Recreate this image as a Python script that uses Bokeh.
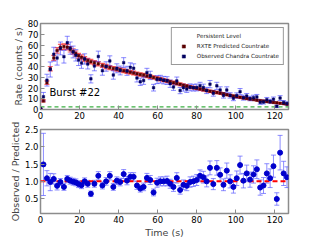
from bokeh.plotting import figure
from bokeh.models import (ColumnDataSource, Whisker, TeeHead, Span, Label, Legend,
                          LegendItem, Range1d, FixedTicker, NumeralTickFormatter)
from bokeh.layouts import column
from bokeh.embed import file_html
from bokeh.resources import INLINE

FONT = "DejaVu Sans"

# ---------------- data ----------------
time_s = [0.0, 1.5, 3.3, 5.0, 6.8, 8.5, 10.2, 12.0, 13.7, 15.2,
          16.7, 18.1, 19.5, 21.0, 22.6, 24.2, 25.8, 27.6, 29.6, 31.7,
          33.6, 35.5, 37.3, 39.1, 40.8, 42.6, 44.3, 46.0, 47.7, 49.4,
          51.1, 52.8, 54.5, 56.2, 57.9, 59.7, 61.4, 63.1, 64.8, 66.4,
          68.1, 69.8, 71.5, 73.2, 74.9, 76.6, 78.3, 80.0, 81.7, 83.4,
          85.1, 86.8, 88.5, 90.3, 92.0, 93.7, 95.4, 97.1, 98.8, 100.5,
          102.2, 103.9, 105.6, 107.3, 109.1, 110.8, 112.5, 114.2, 115.9, 117.6,
          119.3, 121.0, 122.7, 124.5, 126.2]

predicted = [0.5, 8, 25, 38, 48, 55, 58, 58.5, 58, 56,
             54, 52, 50, 48.5, 47, 45.5, 44.5, 43.5, 42.5, 41,
             40, 39, 38.2, 37.5, 37, 36, 35.3, 34.7, 34, 33.3,
             32.6, 32, 31.2, 30.5, 29.8, 29, 28.2, 27.3, 26.6, 25.8,
             25, 24.2, 23.4, 22.6, 21.8, 21, 20.3, 19.7, 19, 18.3,
             17.7, 17, 16.4, 15.8, 15.2, 14.6, 13.8, 13.1, 12.5, 11.9,
             11.3, 10.8, 10.2, 9.7, 9.2, 8.7, 8.2, 7.8, 7.4, 7.0,
             6.6, 6.2, 5.8, 5.4, 5.0]

predicted_err = [0.3, 1.0, 1.6, 2.0, 2.3, 2.5, 2.6, 2.6, 2.6, 2.5,
                 2.5, 2.4, 2.3, 2.3, 2.2, 2.1, 2.1, 2.0, 2.0, 1.9,
                 1.9, 1.9, 1.8, 1.8, 1.8, 1.7, 1.7, 1.7, 1.7, 1.6,
                 1.6, 1.6, 1.6, 1.5, 1.5, 1.5, 1.5, 1.4, 1.4, 1.4,
                 1.4, 1.3, 1.3, 1.3, 1.3, 1.2, 1.2, 1.2, 1.2, 1.2,
                 1.1, 1.1, 1.1, 1.1, 1.0, 1.0, 1.0, 1.0, 1.0, 0.9,
                 0.9, 0.9, 0.9, 0.9, 0.8, 0.8, 0.8, 0.8, 0.8, 0.7,
                 0.7, 0.7, 0.7, 0.7, 0.7]

observed = [0.6, 11.9, 27.3, 37.2, 51.4, 47.9, 56.8, 49.1, 62.1, 57.1,
            53.5, 50.4, 46.0, 43.2, 47.0, 42.3, 28.5, 40.5, 49.3, 36.1,
            40.0, 45.2, 32.1, 38.3, 36.3, 43.6, 36.0, 39.2, 38.4, 29.3,
            25.8, 26.9, 34.3, 31.7, 20.3, 27.8, 28.2, 27.3, 26.9, 24.0,
            21.0, 26.6, 17.6, 20.3, 19.0, 20.6, 20.3, 20.5, 22.0, 20.5,
            17.7, 23.6, 15.1, 22.0, 18.1, 13.1, 18.1, 13.1, 10.5, 13.0,
            16.6, 11.0, 12.5, 10.2, 11.0, 11.7, 6.7, 6.9, 9.1, 7.6,
            9.5, 3.0, 10.6, 6.6, 5.6]

observed_err = [0.5, 4.0, 5.5, 7.0, 6.5, 6.6, 6.0, 5.9, 6.0, 5.7,
                5.5, 5.3, 5.1, 4.9, 4.8, 4.6, 3.8, 4.5, 5.0, 4.2,
                4.4, 4.7, 3.9, 4.2, 4.1, 4.6, 4.2, 4.2, 4.1, 3.7,
                3.4, 3.5, 4.0, 3.9, 3.1, 3.7, 3.6, 3.5, 3.6, 3.4,
                3.2, 3.6, 2.9, 3.2, 3.1, 3.2, 3.1, 3.2, 3.3, 3.1,
                2.9, 3.4, 2.7, 3.3, 3.0, 2.5, 3.0, 2.5, 2.3, 2.5,
                2.9, 2.3, 2.4, 2.1, 2.3, 2.3, 1.8, 1.8, 2.1, 1.9,
                2.1, 1.1, 2.3, 1.7, 1.5]

# observed / predicted (from t = 1.5 s on)
ratio = [1.49, 1.09, 0.98, 1.07, 0.87, 0.98, 0.84, 1.07, 1.02,
         0.99, 0.97, 0.92, 0.89, 1.0, 0.93, 0.64, 0.93, 1.16, 0.88,
         1.0, 1.16, 0.84, 1.02, 0.98, 1.21, 1.02, 1.13, 1.13, 0.88,
         0.79, 0.84, 1.1, 1.04, 0.68, 0.96, 1.0, 1.0, 1.01, 0.93,
         0.84, 1.1, 0.75, 0.9, 0.87, 0.98, 1.0, 1.04, 1.16, 1.12,
         1.0, 1.39, 0.92, 1.39, 1.19, 0.9, 1.31, 1.0, 0.84, 1.09,
         1.47, 1.02, 1.23, 1.05, 1.2, 1.35, 0.82, 0.88, 1.23, 1.09,
         1.44, 0.49, 1.83, 1.23, 1.12]

ratio_err = [0.9, 0.22, 0.25, 0.15, 0.12, 0.1, 0.1, 0.1, 0.1,
             0.1, 0.1, 0.1, 0.1, 0.1, 0.1, 0.08, 0.1, 0.12, 0.1,
             0.11, 0.12, 0.1, 0.11, 0.11, 0.13, 0.12, 0.12, 0.12, 0.11,
             0.1, 0.11, 0.13, 0.13, 0.1, 0.13, 0.13, 0.13, 0.14, 0.13,
             0.13, 0.15, 0.12, 0.14, 0.14, 0.15, 0.15, 0.16, 0.17, 0.17,
             0.16, 0.2, 0.16, 0.21, 0.2, 0.17, 0.22, 0.19, 0.18, 0.21,
             0.26, 0.21, 0.24, 0.22, 0.25, 0.27, 0.22, 0.23, 0.28, 0.27,
             0.32, 0.18, 0.5, 0.35, 0.3]

persistent_level = 2.5
expected_ratio = 1.0

x_ticks = [0, 20, 40, 60, 80, 100, 120]
rate_ticks = [0, 10, 20, 30, 40, 50, 60, 70, 80]
ratio_ticks = [0.5, 1.0, 1.5, 2.0, 2.5]

# ---------------- styling helpers ----------------
FRAME = "#8c8c8c"


def style(p, xticks, yticks):
    p.outline_line_color = FRAME
    p.outline_line_width = 1.5
    p.xgrid.visible = False
    p.ygrid.visible = False
    for ax in p.axis:
        ax.axis_line_color = None
        ax.major_tick_in = 4
        ax.major_tick_out = 0
        ax.major_tick_line_color = FRAME
        ax.minor_tick_line_color = None
        ax.major_label_text_font = FONT
        ax.major_label_text_font_size = "8.5px"
        ax.major_label_text_color = "black"
        ax.major_label_standoff = 2
        ax.axis_label_text_font = FONT
        ax.axis_label_text_font_size = "9.5px"
        ax.axis_label_text_font_style = "normal"
        ax.axis_label_standoff = 1
    p.xaxis.ticker = FixedTicker(ticks=xticks)
    p.yaxis.ticker = FixedTicker(ticks=yticks)


# ---------------- top panel ----------------
top = figure(width=300, height=122, x_range=Range1d(0, 127), y_range=Range1d(0, 80),
             output_backend="svg", toolbar_location=None,
             min_border_left=40, min_border_right=12, min_border_top=23, min_border_bottom=13)

src_pred = ColumnDataSource(dict(
    t=time_s, v=predicted,
    lo=[v - e for v, e in zip(predicted, predicted_err)],
    hi=[v + e for v, e in zip(predicted, predicted_err)]))
src_obs = ColumnDataSource(dict(
    t=time_s, v=observed,
    lo=[v - e for v, e in zip(observed, observed_err)],
    hi=[v + e for v, e in zip(observed, observed_err)]))

RED = "#ff2020"
BLUE = "#3a3aff"
GREEN = "#3cb043"

top.add_layout(Span(location=persistent_level, dimension="width", line_color=GREEN,
                    line_dash="4 3", line_width=1.2, level="underlay"))

wp = Whisker(source=src_pred, base="t", lower="lo", upper="hi", dimension="height",
             line_color=RED, line_alpha=0.7, line_width=1.2, level="underlay",
             upper_head=TeeHead(size=5, line_color=RED, line_alpha=0.7, line_width=1.2),
             lower_head=TeeHead(size=5, line_color=RED, line_alpha=0.7, line_width=1.2))
wo = Whisker(source=src_obs, base="t", lower="lo", upper="hi", dimension="height",
             line_color=BLUE, line_alpha=0.6, line_width=1.0, level="underlay",
             upper_head=TeeHead(size=5, line_color=BLUE, line_alpha=0.6, line_width=1.0),
             lower_head=TeeHead(size=5, line_color=BLUE, line_alpha=0.6, line_width=1.0))
top.add_layout(wp)
top.add_layout(wo)

r_pred = top.scatter("t", "v", source=src_pred, marker="square", size=2.5,
                     fill_color="#5a0000", line_color="#5a0000", line_width=0.5)
r_obs = top.scatter("t", "v", source=src_obs, marker="square", size=2.5,
                    fill_color="#000060", line_color="#000060", line_width=0.5)
r_pers = top.line([], [], line_color=GREEN, line_dash="4 3", line_width=1.2)

style(top, x_ticks, rate_ticks)
top.yaxis[0].axis_label = "Rate (counts / s)"

legend = Legend(items=[
    LegendItem(label="Persistent Level", renderers=[r_pers]),
    LegendItem(label="RXTE Predicted Countrate", renderers=[r_pred]),
    LegendItem(label="Observed Chandra Countrate", renderers=[r_obs]),
], location="top_right", margin=4, padding=4, spacing=2,
    glyph_width=15, glyph_height=8, label_height=8, label_standoff=6,
    label_text_font=FONT, label_text_font_size="5.6px", label_text_color="#222222",
    border_line_color="#333333", border_line_width=1, background_fill_alpha=1.0)
top.add_layout(legend)

top.add_layout(Label(x=4.6, y=11, text="Burst #22", text_font=FONT,
                     text_font_size="10px", text_color="black"))

# ---------------- bottom panel ----------------
bot = figure(width=300, height=118, x_range=top.x_range, y_range=Range1d(0.07, 2.5),
             output_backend="svg", toolbar_location=None,
             min_border_left=40, min_border_right=12, min_border_top=7, min_border_bottom=24)

t_ratio = time_s[1:]
src_ratio = ColumnDataSource(dict(
    t=t_ratio, v=ratio,
    lo=[v - e for v, e in zip(ratio, ratio_err)],
    hi=[v + e for v, e in zip(ratio, ratio_err)]))

LBLUE = "#5c5cff"
bot.add_layout(Whisker(source=src_ratio, base="t", lower="lo", upper="hi", dimension="height",
                       line_color=LBLUE, line_alpha=0.7, line_width=1.0, level="underlay",
                       upper_head=TeeHead(size=5, line_color=LBLUE, line_alpha=0.7, line_width=1.0),
                       lower_head=TeeHead(size=5, line_color=LBLUE, line_alpha=0.7, line_width=1.0)))
bot.add_layout(Span(location=expected_ratio, dimension="width", line_color="red",
                    line_dash="5 3", line_width=2, level="underlay"))
bot.scatter("t", "v", source=src_ratio, marker="circle", size=5,
            fill_color="#0000cc", line_color="#0000cc")

style(bot, x_ticks, ratio_ticks)
bot.yaxis[0].axis_label = "Observed / Predicted"
bot.yaxis[0].formatter = NumeralTickFormatter(format="0.0")
bot.xaxis[0].axis_label = "Time (s)"

layout = column(top, bot)
open("out.html", "w").write(file_html(layout, INLINE))
